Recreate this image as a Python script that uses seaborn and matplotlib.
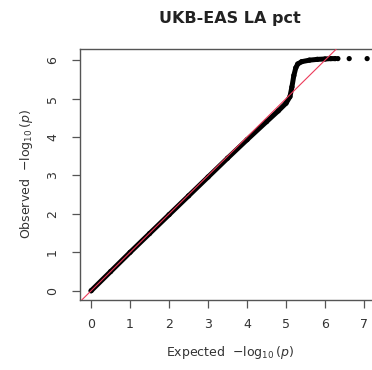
import matplotlib
matplotlib.use("Agg")
import matplotlib.pyplot as plt
import seaborn as sns
import pandas as pd

# Values
dense_expected = [0.0, 0.5, 1.0, 1.5, 2.0, 2.5, 3.0, 3.5, 4.0, 4.5, 4.8, 5.0,
                  5.1, 5.15, 5.2, 5.25, 5.3, 5.4, 5.6, 5.8, 6.0, 6.15, 6.26]
dense_observed = [0.0, 0.5, 1.0, 1.49, 1.98, 2.47, 2.96, 3.45, 3.93, 4.4, 4.68, 4.88,
                  5.05, 5.3, 5.6, 5.8, 5.9, 5.96, 6.0, 6.02, 6.03, 6.04, 6.04]
tail_expected = [6.33, 6.62, 7.08]
tail_observed = [6.04, 6.04, 6.04]
x_ticks = [0, 1, 2, 3, 4, 5, 6, 7]
y_ticks = [0, 1, 2, 3, 4, 5, 6]
title = "UKB-EAS LA pct"

sns.set_style("white")
plt.rcParams["font.family"] = ["DejaVu Sans"]

W, H = 372, 370
fig = plt.figure(figsize=(W / 100, H / 100), dpi=100)
ax = fig.add_axes([80 / W, (H - 300) / H, 300 / W, 251 / H])

dense = pd.DataFrame({"e": dense_expected, "o": dense_observed})
tail = pd.DataFrame({"e": tail_expected, "o": tail_observed})

sns.lineplot(data=dense, x="e", y="o", ax=ax, color="black", linewidth=3.6,
             solid_capstyle="round", sort=False, zorder=2)
sns.scatterplot(data=dense, x="e", y="o", ax=ax, color="black", s=14,
                edgecolor="none", zorder=2)
sns.scatterplot(data=tail, x="e", y="o", ax=ax, color="black", s=14,
                edgecolor="none", zorder=2)
ax.axline((0, 0), slope=1, color="#ec3b5a", linewidth=0.8, zorder=3)

ax.set_xlim(-0.285, 7.41)
ax.set_ylim(-0.24, 6.29)
ax.set_xticks(x_ticks)
ax.set_yticks(y_ticks)
ax.set_xticklabels([str(t) for t in x_ticks])
ax.set_yticklabels([str(t) for t in y_ticks], rotation=90, va="center")

for s in ["left", "top", "bottom"]:
    ax.spines[s].set_color("#555555")
    ax.spines[s].set_linewidth(1.0)
ax.spines["right"].set_visible(False)
ax.tick_params(axis="both", which="both", direction="out", length=6, width=0.9,
               color="#555555", labelsize=9, labelcolor="#333333",
               left=True, bottom=True)
ax.tick_params(axis="x", pad=7)
ax.tick_params(axis="y", pad=9)

ax.set_xlabel(r"Expected  $-\log_{10}(p)$", fontsize=9, color="#333333", labelpad=9)
ax.set_ylabel(r"Observed  $-\log_{10}(p)$", fontsize=9, color="#333333", labelpad=8)
ax.set_title(title, fontsize=11.5, fontweight="bold", color="#222222", pad=19)

fig.savefig("out.png", dpi=100)
